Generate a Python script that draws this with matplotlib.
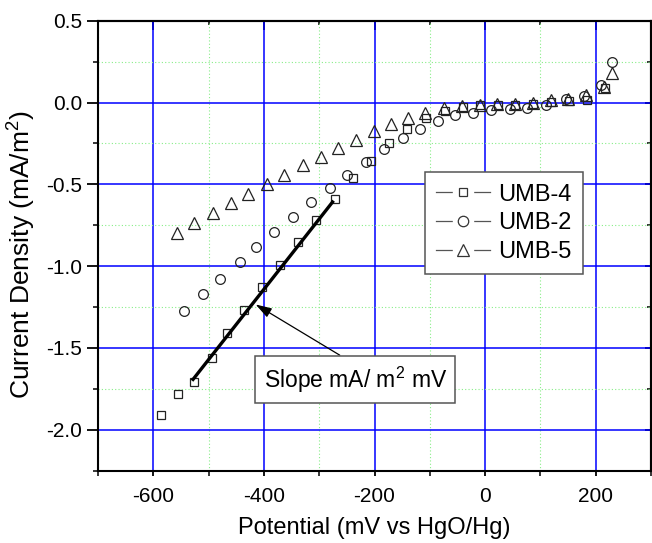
import matplotlib
matplotlib.use("Agg")
import matplotlib.pyplot as plt
from matplotlib.lines import Line2D
from matplotlib.legend_handler import HandlerTuple
from matplotlib.ticker import MultipleLocator, FixedLocator

plt.rcParams['font.family'] = ['Liberation Sans', 'DejaVu Sans']
plt.rcParams['mathtext.fontset'] = 'custom'
plt.rcParams['mathtext.rm'] = 'Liberation Sans'
plt.rcParams['mathtext.it'] = 'Liberation Sans:italic'
plt.rcParams['axes.unicode_minus'] = False

# UMB-4 (squares)
umb4_x = [-586, -556, -526, -494, -466, -436, -404, -371, -338, -305, -272, -239,
          -206, -174, -141, -107, -73, -40, -10, 23, 54, 87, 120, 152, 184, 216]
umb4_y = [-1.911, -1.783, -1.707, -1.559, -1.409, -1.265, -1.128, -0.992, -0.854,
          -0.718, -0.591, -0.462, -0.357, -0.248, -0.163, -0.096, -0.051, -0.027,
          -0.016, -0.016, -0.016, -0.010, 0.004, 0.010, 0.016, 0.091]

# UMB-2 (circles)
umb2_x = [-545, -510, -479, -444, -414, -382, -347, -315, -281, -249, -215, -183,
          -149, -118, -86, -54, -22, 10, 45, 76, 110, 146, 179, 210, 230]
umb2_y = [-1.274, -1.173, -1.079, -0.977, -0.880, -0.789, -0.700, -0.610, -0.522,
          -0.443, -0.362, -0.285, -0.218, -0.159, -0.110, -0.077, -0.061, -0.047,
          -0.041, -0.031, -0.016, 0.020, 0.040, 0.107, 0.250]

# UMB-5 (triangles)
umb5_x = [-557, -526, -492, -460, -428, -395, -363, -330, -297, -266, -233, -201,
          -171, -140, -108, -74, -42, -10, 22, 54, 86, 120, 150, 182, 215, 229]
umb5_y = [-0.800, -0.736, -0.677, -0.616, -0.559, -0.500, -0.443, -0.380, -0.334,
          -0.277, -0.228, -0.175, -0.134, -0.092, -0.061, -0.031, -0.020, -0.016,
          -0.010, -0.006, -0.004, 0.016, 0.024, 0.045, 0.097, 0.179]

# fitted slope line
slope_x = [-530, -274]
slope_y = [-1.70, -0.60]

series_labels = ['UMB-4', 'UMB-2', 'UMB-5']
x_ticks = [-600, -400, -200, 0, 200]
y_ticks = [-2.0, -1.5, -1.0, -0.5, 0.0, 0.5]
y_tick_labels = ['-2.0', '-1.5', '-1.0', '-0.5', '0.0', '0.5']

fig = plt.figure(figsize=(6.52, 5.43), dpi=100)
ax = fig.add_axes([98/652, (543-470.7)/543, (651-98)/652, 450/543])

ax.set_xlim(-700, 300)
ax.set_ylim(-2.25, 0.5)

ax.xaxis.set_major_locator(FixedLocator(x_ticks))
ax.xaxis.set_minor_locator(MultipleLocator(100))
ax.yaxis.set_major_locator(FixedLocator(y_ticks))
ax.set_yticklabels(y_tick_labels)
ax.yaxis.set_minor_locator(MultipleLocator(0.25))

ax.grid(which='major', color='#0000ff', linewidth=1.1, linestyle='-')
ax.grid(which='minor', color='#88ee88', linewidth=0.8, linestyle=(0, (1, 2)))
ax.set_axisbelow(True)

for s in ax.spines.values():
    s.set_linewidth(1.5)

ax.tick_params(axis='y', which='major', direction='out', length=8, width=1.3,
               labelsize=15, pad=3.5)
ax.tick_params(axis='y', which='minor', direction='out', length=3.5, width=1.1)
ax.tick_params(axis='x', which='major', direction='out', length=3.5, width=1.3,
               labelsize=15, pad=8)
ax.tick_params(axis='x', which='minor', direction='out', length=3.5, width=1.1)

secx = ax.secondary_xaxis('top')
secx.xaxis.set_major_locator(FixedLocator(x_ticks))
secx.xaxis.set_minor_locator(MultipleLocator(100))
secx.tick_params(which='major', direction='in', length=6.5, width=1.3, labeltop=False)
secx.tick_params(which='minor', direction='in', length=3, width=1.1)
secx.spines['top'].set_linewidth(1.5)

secy = ax.secondary_yaxis('right')
secy.yaxis.set_major_locator(FixedLocator(y_ticks))
secy.yaxis.set_minor_locator(MultipleLocator(0.25))
secy.tick_params(which='major', direction='in', length=4, width=1.3, labelright=False)
secy.tick_params(which='minor', direction='in', length=3, width=1.1)
secy.spines['right'].set_linewidth(1.5)

mk = dict(linestyle='none', markerfacecolor='none', markeredgecolor='#222222',
          markeredgewidth=0.9)
ax.plot(umb4_x, umb4_y, marker='s', markersize=6, **mk)
ax.plot(umb2_x, umb2_y, marker='o', markersize=7, **mk)
ax.plot(umb5_x, umb5_y, marker='^', markersize=8, **mk)

ax.plot(slope_x, slope_y, color='black', linewidth=2.4, solid_capstyle='butt')

ax.annotate('Slope mA/ m$^{2}$ mV', xy=(-415, -1.234), xytext=(-235, -1.693),
            fontsize=16.5, ha='center', va='center',
            bbox=dict(boxstyle='square,pad=0.38', facecolor='white',
                      edgecolor='#555555', linewidth=1.1),
            arrowprops=dict(arrowstyle='-|>,head_length=0.7,head_width=0.22',
                            color='black', linewidth=0.9, relpos=(0.5, 1.0),
                            shrinkA=0, shrinkB=0, mutation_scale=14))

def legend_handle(marker, size):
    line = Line2D([], [], color='#555555', linewidth=0.9)
    cover = Line2D([], [], linestyle='none', marker='s', markersize=15,
                   markerfacecolor='white', markeredgecolor='white')
    mark = Line2D([], [], linestyle='none', marker=marker, markersize=size,
                  markerfacecolor='white', markeredgecolor='#333333',
                  markeredgewidth=0.9)
    return (line, cover, mark)

handles = [legend_handle('s', 5.8), legend_handle('o', 7.5), legend_handle('^', 8.6)]
leg = ax.legend(handles, series_labels, loc='upper left',
                handler_map={tuple: HandlerTuple(ndivide=1, pad=0)},
                bbox_to_anchor=(0.591, 0.663), borderaxespad=0, fontsize=17,
                frameon=True, fancybox=False, framealpha=1, edgecolor='#555555',
                handlelength=2.3, handletextpad=0.33, labelspacing=0.28,
                borderpad=0.48, numpoints=1)
leg.get_frame().set_linewidth(1.1)

ax.set_xlabel('Potential (mV vs HgO/Hg)', fontsize=17, labelpad=8)
ax.set_ylabel('Current Density (mA/m$^{2}$)', fontsize=19, labelpad=4)
ax.yaxis.set_label_coords(-0.1085, 0.48)

fig.savefig('out.png', dpi=100)
